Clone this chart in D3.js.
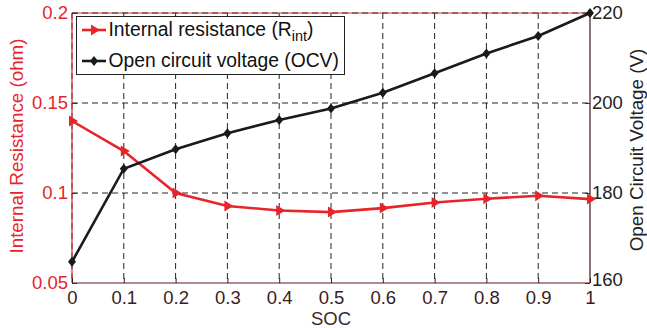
<!DOCTYPE html>
<html><head><meta charset="utf-8">
<script src="https://cdn.jsdelivr.net/npm/d3@7"></script>
<style>
html,body{margin:0;padding:0;background:#fff;}
svg{display:block;font-family:"Liberation Sans",Arial,sans-serif;}
</style></head>
<body>
<svg id="c" width="647" height="328"></svg>
<script>
const soc = [0, 0.1, 0.2, 0.3, 0.4, 0.5, 0.6, 0.7, 0.8, 0.9, 1.0];
const rint = [0.140, 0.1233, 0.1, 0.0928, 0.0903, 0.0894, 0.0916, 0.0947, 0.0968, 0.0985, 0.0966];
const ocv = [164.7, 185.4, 189.7, 193.3, 196.2, 198.8, 202.3, 206.6, 211.0, 214.9, 220];
const xTicks = [0, 0.1, 0.2, 0.3, 0.4, 0.5, 0.6, 0.7, 0.8, 0.9, 1];
const yLeftTicks = [0.05, 0.1, 0.15, 0.2];
const yRightTicks = [160, 180, 200, 220];
const legendLabels = ["Internal resistance (R", "Open circuit voltage (OCV)"];

const RED = "#e8242b", DARK = "#1a1a1a", XLAB = "#3b1c1c";
const FF = "Liberation Sans, Arial, sans-serif";
const svg = d3.select("#c");
const L = 72, R = 590, T = 13, B = 283;
const x = d3.scaleLinear().domain([0, 1]).range([L, R]);
const yl = d3.scaleLinear().domain([0.05, 0.2]).range([B, T]);
const yr = d3.scaleLinear().domain([160, 220]).range([B, T]);

// grid
const g = svg.append("g");
g.selectAll(".vg").data(xTicks.slice(1, -1)).enter().append("line")
  .attr("x1", d => x(d)).attr("x2", d => x(d)).attr("y1", T).attr("y2", B)
  .attr("stroke", "#222").attr("stroke-width", 1).attr("stroke-dasharray", "6,4");
g.selectAll(".hg").data(yLeftTicks.slice(1, -1)).enter().append("line")
  .attr("x1", L).attr("x2", R).attr("y1", d => yl(d)).attr("y2", d => yl(d))
  .attr("stroke", "#222").attr("stroke-width", 1).attr("stroke-dasharray", "6,4");

// frame
svg.append("line").attr("x1", L).attr("x2", R).attr("y1", T).attr("y2", T).attr("stroke", RED).attr("stroke-width", 1);
svg.append("line").attr("x1", L).attr("x2", R).attr("y1", T).attr("y2", T).attr("stroke", "#333").attr("stroke-width", 1).attr("stroke-dasharray", "6,4");
svg.append("line").attr("x1", L).attr("x2", R).attr("y1", B).attr("y2", B).attr("stroke", "#5a1818").attr("stroke-width", 1.2);
svg.append("line").attr("x1", L).attr("x2", L).attr("y1", T).attr("y2", B).attr("stroke", RED).attr("stroke-width", 1.2);
svg.append("line").attr("x1", L).attr("x2", L).attr("y1", T).attr("y2", B).attr("stroke", "#333").attr("stroke-width", 0.8).attr("stroke-dasharray", "6,4");
svg.append("line").attr("x1", R).attr("x2", R).attr("y1", T).attr("y2", B).attr("stroke", "#3a1a1a").attr("stroke-width", 1.2);

// axes
const fs = 18.5;
const xAxis = d3.axisBottom(x).tickValues(xTicks).tickSize(-5).tickPadding(8).tickFormat(d => d === 0 ? "0" : d === 1 ? "1" : d3.format(".1f")(d));
const xa = svg.append("g").attr("transform", `translate(0,${B})`).call(xAxis);
xa.select(".domain").remove();
xa.selectAll("line").attr("stroke", "#3a1a1a");
xa.selectAll("text").attr("fill", XLAB).attr("font-size", fs).attr("font-family", FF);

const ylAxis = d3.axisLeft(yl).tickValues(yLeftTicks).tickSize(-5).tickPadding(4).tickFormat(d => d3.format("")(d));
const yla = svg.append("g").attr("transform", `translate(${L},0)`).call(ylAxis);
yla.select(".domain").remove();
yla.selectAll("line").attr("stroke", "#333");
yla.selectAll("text").attr("fill", RED).attr("font-size", fs).attr("font-family", FF);

const yrAxis = d3.axisRight(yr).tickValues(yRightTicks).tickSize(-5).tickPadding(2);
const yra = svg.append("g").attr("transform", `translate(${R},0)`).call(yrAxis);
yra.select(".domain").remove();
yra.selectAll("line").attr("stroke", "#333");
yra.selectAll("text").attr("fill", "#222").attr("font-size", fs).attr("font-family", FF)
  .attr("dy", d => d === 160 ? "0.12em" : "0.32em");

// axis labels
svg.append("text").attr("x", (L + R) / 2).attr("y", 325).attr("text-anchor", "middle")
  .attr("fill", "#3a2a2a").attr("font-size", fs).text("SOC");
svg.append("text").attr("transform", `translate(23,${(T + B) / 2 - 2}) rotate(-90)`).attr("text-anchor", "middle")
  .attr("fill", RED).attr("font-size", 18.8).text("Internal Resistance (ohm)");
svg.append("text").attr("transform", `translate(643,${(T + B) / 2 + 2}) rotate(-90)`).attr("text-anchor", "middle")
  .attr("fill", "#222").attr("font-size", 18.8).text("Open Circuit Voltage (V)");

// lines
const lineR = d3.line().x((d, i) => x(soc[i])).y(d => yl(d));
const lineV = d3.line().x((d, i) => x(soc[i])).y(d => yr(d));
svg.append("path").attr("d", lineR(rint)).attr("fill", "none").attr("stroke", RED).attr("stroke-width", 2.6);
svg.append("path").attr("d", lineV(ocv)).attr("fill", "none").attr("stroke", DARK).attr("stroke-width", 2.6);

const tri = "M-3,-5.5 L6,0 L-3,5.5 Z";
const dia = "M0,-5 L4,0 L0,5 L-4,0 Z";
svg.selectAll(".mr").data(rint).enter().append("path")
  .attr("d", tri).attr("transform", (d, i) => `translate(${x(soc[i])},${yl(d)})`).attr("fill", RED);
svg.selectAll(".mv").data(ocv).enter().append("path")
  .attr("d", dia).attr("transform", (d, i) => `translate(${x(soc[i])},${yr(d)})`).attr("fill", DARK);

// legend
const lfs = 19.3;
const lg = svg.append("g");
lg.append("rect").attr("x", 76.5).attr("y", 16.5).attr("width", 268).attr("height", 58)
  .attr("fill", "#fff").attr("stroke", "#222").attr("stroke-width", 1);
const ly = [30, 61];
lg.append("line").attr("x1", 82).attr("x2", 106).attr("y1", ly[0]).attr("y2", ly[0]).attr("stroke", RED).attr("stroke-width", 2.6);
lg.append("path").attr("d", tri).attr("transform", `translate(94,${ly[0]})`).attr("fill", RED);
lg.append("line").attr("x1", 82).attr("x2", 106).attr("y1", ly[1]).attr("y2", ly[1]).attr("stroke", DARK).attr("stroke-width", 2.6);
lg.append("path").attr("d", dia).attr("transform", `translate(94,${ly[1]})`).attr("fill", DARK);
const t1 = lg.append("text").attr("x", 108.5).attr("y", ly[0] + 6).attr("font-size", lfs).attr("fill", "#111");
t1.append("tspan").text(legendLabels[0]);
t1.append("tspan").attr("dy", 5).attr("font-size", 14.5).text("int");
t1.append("tspan").attr("dy", -5).text(")");
lg.append("text").attr("x", 108.5).attr("y", ly[1] + 6).attr("font-size", lfs).attr("fill", "#111").text(legendLabels[1]);
</script>
</body></html>
